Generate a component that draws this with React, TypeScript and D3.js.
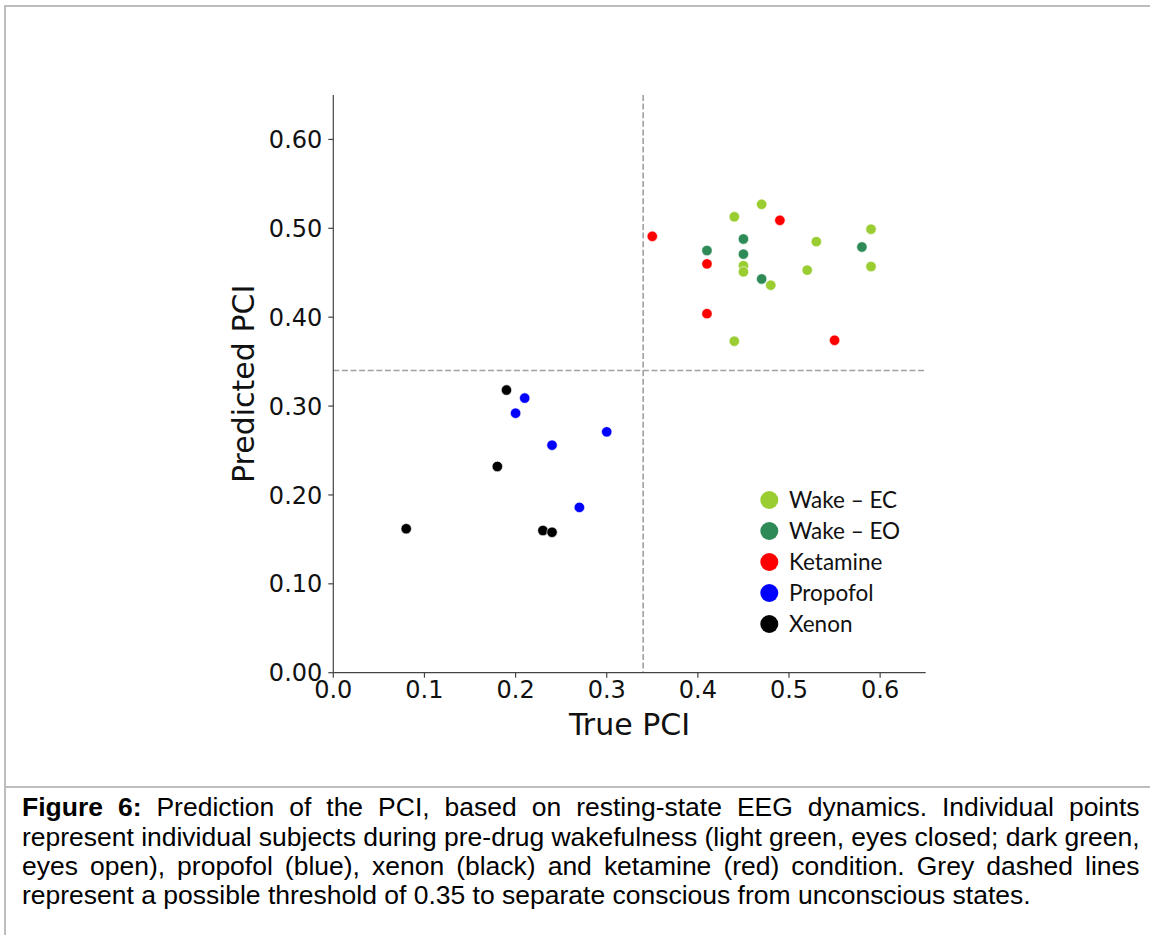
import React, { useMemo } from 'react';
import * as d3 from 'd3';

// ---- data ----
const conditions = ['Wake – EC', 'Wake – EO', 'Ketamine', 'Propofol', 'Xenon'];
const conditionColors = ['#9acd32', '#2e8b57', '#ff0000', '#0000ff', '#000000'];

const wakeECTrue = [0.44, 0.47, 0.59, 0.53, 0.45, 0.45, 0.52, 0.59, 0.48, 0.44];
const wakeECPred = [0.513, 0.527, 0.499, 0.485, 0.458, 0.451, 0.453, 0.457, 0.436, 0.373];
const wakeEOTrue = [0.45, 0.41, 0.58, 0.45, 0.47];
const wakeEOPred = [0.488, 0.475, 0.479, 0.471, 0.443];
const ketamineTrue = [0.35, 0.49, 0.41, 0.41, 0.55];
const ketaminePred = [0.491, 0.509, 0.46, 0.404, 0.374];
const propofolTrue = [0.21, 0.2, 0.3, 0.24, 0.27];
const propofolPred = [0.309, 0.292, 0.271, 0.256, 0.186];
const xenonTrue = [0.19, 0.18, 0.08, 0.23, 0.24];
const xenonPred = [0.318, 0.232, 0.162, 0.16, 0.158];

const xTicks = [0, 0.1, 0.2, 0.3, 0.4, 0.5, 0.6];
const yTicks = [0, 0.1, 0.2, 0.3, 0.4, 0.5, 0.6];
const threshold = 0.34;

const captionBold = 'Figure 6:';
const captionLines = [
  ' Prediction of the PCI, based on resting-state EEG dynamics. Individual points',
  'represent individual subjects during pre-drug wakefulness (light green, eyes closed; dark green,',
  'eyes open), propofol (blue), xenon (black) and ketamine (red) condition. Grey dashed lines',
  'represent a possible threshold of 0.35 to separate conscious from unconscious states.',
];

const series = [
  { xs: wakeECTrue, ys: wakeECPred },
  { xs: wakeEOTrue, ys: wakeEOPred },
  { xs: ketamineTrue, ys: ketaminePred },
  { xs: propofolTrue, ys: propofolPred },
  { xs: xenonTrue, ys: xenonPred },
];

const W = 1150;
const H = 935;
const CAP_FONT = 25;
const CAP_FAMILY = "'Liberation Sans', Arial, sans-serif";

function measure(text: string, bold: boolean): number {
  const c = document.createElement('canvas').getContext('2d');
  if (!c) return text.length * CAP_FONT * 0.5;
  c.font = `${bold ? 'bold ' : ''}${CAP_FONT}px 'Liberation Sans'`;
  return c.measureText(text).width;
}

export default function App() {
  const x = d3.scaleLinear().domain([0, 0.65]).range([333.3, 925.7]);
  const y = d3.scaleLinear().domain([0, 0.65]).range([672.7, 95]);

  const cap = useMemo(() => {
    const lastW = measure(captionLines[3], false);
    const sx = 1009 / lastW;
    const target = 1118 / sx;
    const spacings = captionLines.map((line, i) => {
      if (i === 3) return 0;
      let w = measure(line, false);
      let full = line;
      if (i === 0) {
        w += measure(captionBold, true);
        full = captionBold + line;
      }
      const n = (full.match(/ /g) || []).length;
      return (target - w) / n;
    });
    return { sx, spacings };
  }, []);

  const capBaselines = [816, 846, 875, 904];
  const tickFont = "'DejaVu Sans', sans-serif";

  return (
    <svg width={W} height={H} style={{ position: 'absolute', left: 0, top: 0, background: '#fff' }}>
      <rect x={0} y={0} width={W} height={H} fill="#fff" />
      {/* frame lines */}
      <line x1={5} y1={6} x2={W} y2={6} stroke="#bdbdbd" strokeWidth={2} />
      <line x1={5} y1={5} x2={5} y2={H} stroke="#bdbdbd" strokeWidth={2} />
      <line x1={5} y1={787} x2={W} y2={787} stroke="#bdbdbd" strokeWidth={2} />

      {/* threshold lines */}
      <line x1={x(threshold)} x2={x(threshold)} y1={y(0.65)} y2={y(0)} stroke="#a0a0a0" strokeWidth={1.6} strokeDasharray="6,2.6" />
      <line x1={x(0)} x2={x(0.65)} y1={y(threshold)} y2={y(threshold)} stroke="#a0a0a0" strokeWidth={1.6} strokeDasharray="6,2.6" />

      {/* points */}
      {series.map((s, si) =>
        s.xs.map((v, i) => (
          <circle key={`${si}-${i}`} cx={x(v)} cy={y(s.ys[i])} r={5.2} fill={conditionColors[si]} stroke="#fff" strokeWidth={0.6} />
        ))
      )}

      {/* axes */}
      <line x1={x(0)} x2={x(0)} y1={y(0)} y2={y(0.65)} stroke="#444" strokeWidth={1.2} />
      <line x1={x(0)} x2={x(0.65)} y1={y(0)} y2={y(0)} stroke="#444" strokeWidth={1.2} />
      {yTicks.map((t) => (
        <g key={`y${t}`}>
          <line x1={x(0) - 5} x2={x(0)} y1={y(t)} y2={y(t)} stroke="#444" strokeWidth={1.2} />
          <text x={x(0) - 11} y={y(t)} dy="0.36em" textAnchor="end" fontFamily={tickFont} fontSize={24} fill="#111">
            {d3.format('.2f')(t)}
          </text>
        </g>
      ))}
      {xTicks.map((t) => (
        <g key={`x${t}`}>
          <line x1={x(t)} x2={x(t)} y1={y(0)} y2={y(0) + 5} stroke="#444" strokeWidth={1.2} />
          <text x={x(t)} y={698} textAnchor="middle" fontFamily={tickFont} fontSize={24} fill="#111">
            {d3.format('.1f')(t)}
          </text>
        </g>
      ))}
      <text x={(x(0) + x(0.65)) / 2} y={735} textAnchor="middle" fontFamily={tickFont} fontSize={30} fill="#111">
        True PCI
      </text>
      <text
        transform={`translate(254, ${(y(0) + y(0.65)) / 2}) rotate(-90)`}
        textAnchor="middle"
        fontFamily={tickFont}
        fontSize={30}
        fill="#111"
      >
        Predicted PCI
      </text>

      {/* legend */}
      {conditions.map((c, i) => (
        <g key={c}>
          <circle cx={769.3} cy={500 + i * 31} r={9} fill={conditionColors[i]} />
          <text x={789} y={500 + i * 31} dy="0.35em" fontFamily="Lato, 'Open Sans', sans-serif" fontSize={22.5} fill="#111">
            {c}
          </text>
        </g>
      ))}

      {/* caption */}
      <g transform={`translate(22,0) scale(${cap.sx},1)`} fontFamily={CAP_FAMILY} fontSize={CAP_FONT} fill="#000">
        {captionLines.map((line, i) => (
          <text key={i} x={0} y={capBaselines[i]} style={{ wordSpacing: `${cap.spacings[i]}px`, whiteSpace: 'pre' }}>
            {i === 0 ? <tspan fontWeight="bold">{captionBold}</tspan> : null}
            {line}
          </text>
        ))}
      </g>
    </svg>
  );
}
